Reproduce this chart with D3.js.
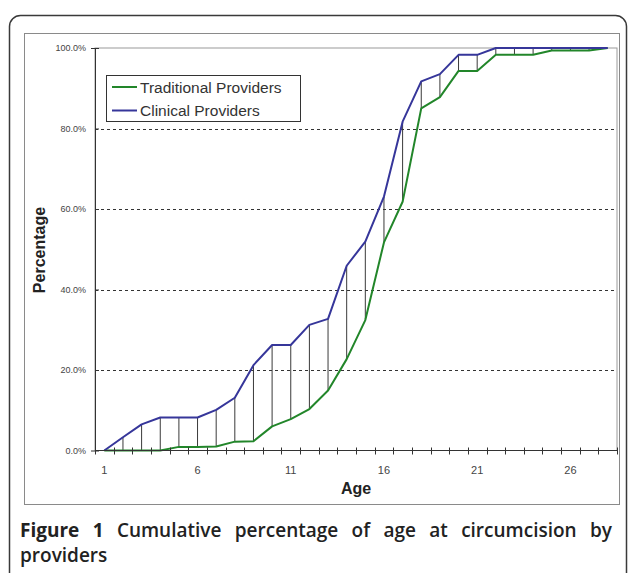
<!DOCTYPE html>
<html>
<head>
<meta charset="utf-8">
<script src="https://cdn.jsdelivr.net/npm/d3@7"></script>
<style>
  body { margin: 0; background: #fff; }
  svg { display: block; }
</style>
</head>
<body>
<svg width="629" height="573"></svg>
<script>

	// ages on the category axis
	var ages = d3.range(1, 29);

	// cumulative percentage, clinical providers
	var clinical = [0, 3.3, 6.5, 8.2, 8.2, 8.2, 10.1, 13.1, 21.2, 26.2, 26.2, 31.2, 32.7, 45.9,
		51.9, 63.1, 81.7, 91.7, 93.5, 98.3, 98.3, 100, 100, 100, 100, 100, 100, 100];

	// cumulative percentage, traditional providers
	var traditional = [0, 0, 0, 0, 0.9, 0.9, 1.0, 2.2, 2.3, 6.0, 7.8, 10.3, 14.9, 22.7,
		32.4, 51.7, 61.8, 85.0, 87.8, 94.3, 94.3, 98.3, 98.3, 98.3, 99.4, 99.4, 99.4, 100];

	var y_ticks = [0, 20, 40, 60, 80, 100];
	var x_labels = [1, 6, 11, 16, 21, 26];

	var series_names = ["Traditional Providers", "Clinical Providers"];
	var series_colors = ["#22862a", "#36369a"];

	var caption_line1 = ["Figure", "1", "Cumulative", "percentage", "of", "age", "at", "circumcision", "by"];
	var caption_line2 = "providers";

	var svg = d3.select("svg");
	var font = "'Liberation Sans', Arial, sans-serif";

	var plot = { left: 95, right: 617, top: 48, bottom: 450.5 };

	var x = d3.scaleBand().domain(ages).range([plot.left, plot.right]);
	var y = d3.scaleLinear().domain([0, 100]).range([plot.bottom, plot.top]);

	function cx(a){ return x(a) + x.bandwidth() / 2; }

	// outer rounded box, runs past the bottom edge
	svg.append("rect")
		.attr("x", 9.5).attr("y", 15.5)
		.attr("width", 617).attr("height", 640)
		.attr("rx", 11)
		.attr("fill", "none")
		.attr("stroke", "#3a3a3a")
		.attr("stroke-width", 1.5);

	// chart frame
	svg.append("rect")
		.attr("x", 24.5).attr("y", 33.5)
		.attr("width", 595).attr("height", 471)
		.attr("fill", "#fff")
		.attr("stroke", "#8a8a8a")
		.attr("stroke-width", 1);

	// plot area border
	svg.append("rect")
		.attr("x", plot.left).attr("y", plot.top)
		.attr("width", plot.right - plot.left).attr("height", plot.bottom - plot.top)
		.attr("fill", "none")
		.attr("stroke", "#9a9a9a")
		.attr("stroke-width", 1);

	// dashed gridlines
	svg.append("g").selectAll("line")
		.data(y_ticks.filter(function(d){ return d > 0 && d < 100; }))
		.enter().append("line")
		.attr("x1", plot.left).attr("x2", plot.right)
		.attr("y1", function(d){ return Math.round(y(d)) + 0.5; })
		.attr("y2", function(d){ return Math.round(y(d)) + 0.5; })
		.attr("stroke", "#333")
		.attr("stroke-width", 1)
		.attr("stroke-dasharray", "3,3");

	// high-low lines between the two series
	svg.append("g").selectAll("line")
		.data(ages)
		.enter().append("line")
		.attr("x1", function(d){ return cx(d); })
		.attr("x2", function(d){ return cx(d); })
		.attr("y1", function(d, i){ return y(clinical[i]); })
		.attr("y2", function(d, i){ return y(traditional[i]); })
		.attr("stroke", "#3a3a3a")
		.attr("stroke-width", 1);

	// series lines
	var line = d3.line()
		.x(function(d){ return cx(d.age); })
		.y(function(d){ return y(d.value); });

	[traditional, clinical].forEach(function(values, k){
		var pts = ages.map(function(a, i){ return { age: a, value: values[i] }; });
		svg.append("path")
			.datum(pts)
			.attr("d", line)
			.attr("fill", "none")
			.attr("stroke", series_colors[k])
			.attr("stroke-width", 2)
			.attr("stroke-linejoin", "round");
	});

	// y axis
	var y_axis = svg.append("g")
		.attr("transform", "translate(" + plot.left + ",0)")
		.call(d3.axisLeft(y).tickValues(y_ticks).tickSize(4).tickPadding(5)
			.tickFormat(function(d){ return d.toFixed(1) + "%"; }));
	y_axis.select(".domain").attr("stroke", "#333");
	y_axis.selectAll(".tick line").attr("x2", 4).attr("stroke", "#333");
	y_axis.selectAll(".tick text")
		.attr("font-family", font).attr("font-size", 9).attr("fill", "#444");

	// x axis: ticks on category boundaries, labels on centres
	var bounds = ages.map(function(a){ return x(a); }).concat([plot.right]);
	var x_axis = svg.append("g");
	x_axis.append("line")
		.attr("x1", plot.left).attr("x2", plot.right)
		.attr("y1", plot.bottom).attr("y2", plot.bottom)
		.attr("stroke", "#333");
	x_axis.selectAll("line.tk")
		.data(bounds)
		.enter().append("line")
		.attr("class", "tk")
		.attr("x1", function(d){ return Math.round(d) + 0.5; })
		.attr("x2", function(d){ return Math.round(d) + 0.5; })
		.attr("y1", plot.bottom - 3).attr("y2", plot.bottom + 4)
		.attr("stroke", "#333");
	x_axis.selectAll("text")
		.data(x_labels)
		.enter().append("text")
		.attr("x", function(d){ return cx(d); })
		.attr("y", 474)
		.attr("text-anchor", "middle")
		.attr("font-family", font).attr("font-size", 11).attr("fill", "#444")
		.text(function(d){ return d; });

	// axis titles
	svg.append("text")
		.attr("x", 356).attr("y", 494)
		.attr("text-anchor", "middle")
		.attr("font-family", font).attr("font-size", 16).attr("font-weight", "bold")
		.attr("fill", "#222")
		.text("Age");

	svg.append("text")
		.attr("transform", "translate(45,250) rotate(-90)")
		.attr("text-anchor", "middle")
		.attr("font-family", font).attr("font-size", 16).attr("font-weight", "bold")
		.attr("fill", "#222")
		.text("Percentage");

	// legend
	var legend = svg.append("g");
	legend.append("rect")
		.attr("x", 106.5).attr("y", 75.5)
		.attr("width", 194).attr("height", 46)
		.attr("fill", "#fff")
		.attr("stroke", "#333");
	series_names.forEach(function(name, i){
		var ly = 87 + i * 23.5;
		legend.append("line")
			.attr("x1", 112).attr("x2", 137)
			.attr("y1", ly).attr("y2", ly)
			.attr("stroke", series_colors[i]).attr("stroke-width", 2);
		legend.append("text")
			.attr("x", 140).attr("y", ly + 5.5)
			.attr("font-family", font).attr("font-size", 15.5).attr("fill", "#333")
			.text(name);
	});

	// caption, first line justified
	var cap_font = "'Open Sans', 'Noto Sans', sans-serif";
	var cap = svg.append("g");
	var words = cap.selectAll("text.w")
		.data(caption_line1)
		.enter().append("text")
		.attr("class", "w")
		.attr("y", 537)
		.attr("font-family", cap_font).attr("font-size", 19)
		.attr("font-weight", function(d, i){ return i < 2 ? 700 : 600; })
		.attr("fill", "#222")
		.text(function(d){ return d; });
	var widths = [];
	words.each(function(){ widths.push(this.getComputedTextLength()); });
	var gap = (612 - 20 - d3.sum(widths)) / (widths.length - 1);
	var pos = 20;
	words.attr("x", function(d, i){
		var p = pos;
		pos += widths[i] + gap;
		return p;
	});
	cap.append("text")
		.attr("x", 20).attr("y", 562)
		.attr("font-family", cap_font).attr("font-size", 19).attr("font-weight", 600)
		.attr("fill", "#222")
		.text(caption_line2);

</script>
</body>
</html>
